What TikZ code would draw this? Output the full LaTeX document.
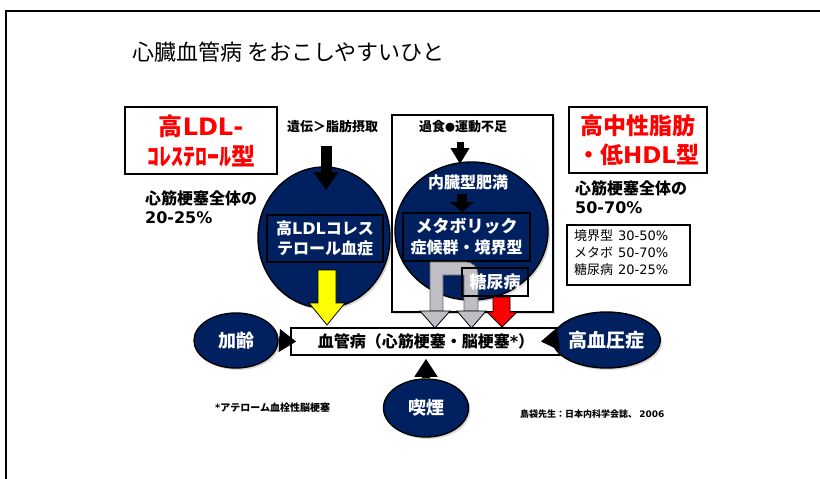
\documentclass[tikz,border=0pt]{standalone}
\usepackage{fontspec}
\setmainfont{Noto Sans CJK JP}
\newfontfamily\latfont{DejaVu Sans}
\newcommand\lat[1]{{\latfont #1}}
\usetikzlibrary{shapes.geometric,arrows.meta,shadows}
\definecolor{navy}{RGB}{0,32,96}
\definecolor{arrowgray}{RGB}{190,190,196}
\definecolor{pptred}{RGB}{255,0,0}
\definecolor{pptyellow}{RGB}{255,255,0}
\tikzset{
  redbox/.style={rectangle, draw=black, line width=1.5pt, fill=white, inner sep=0pt, text=pptred, align=center},
  navyell/.style={ellipse, fill=navy, draw=black, line width=1.4pt, inner sep=0pt, text=white,
    drop shadow={opacity=0.3, shadow xshift=2pt, shadow yshift=-2pt}},
  navybox/.style={rectangle, fill=navy, draw=black, line width=1.4pt, inner sep=0pt, text=white, align=center},
  lbl/.style={inner sep=0pt, anchor=west, align=left},
  blockarrow/.style={draw=black, line width=0.8pt},
  fat/.style={draw=black, line width=#1},
}
\begin{document}
\begin{tikzpicture}[x=1pt,y=-1pt]
\useasboundingbox (0,0) rectangle (820,479);
% frame
\draw[line width=1.5pt] (6,479) -- (6,11) -- (820,11);
% title
\node[lbl, font=\fontsize{22}{26}\selectfont] (title) at (132,52) {心臓血管病 をおこしやすいひと};

% left type box
\node[redbox, minimum width=152pt, minimum height=67pt, font=\fontsize{24}{30}\selectfont\bfseries] (ldltype) at (201,140.5) {高\lat{LDL-}\\ｺﾚｽﾃﾛｰﾙ型};
\node[lbl, font=\fontsize{16}{19}\selectfont\bfseries] (leftpct) at (145,207.5) {心筋梗塞全体の\\\lat{20-25\%}};

% big white box (metabolic)
\node[rectangle, draw=black, line width=1.5pt, fill=white, minimum width=161pt, minimum height=197pt,
  drop shadow={opacity=0.3, shadow xshift=2pt, shadow yshift=-2pt}] (metaframe) at (472.5,213.5) {};

% circle 1
\node[navyell, minimum width=132pt, minimum height=141pt] (c1) at (324,237.5) {};
\node[font=\fontsize{13}{15}\selectfont\bfseries, inner sep=0pt] (iden) at (332.5,127) {遺伝＞脂肪摂取};
\coordinate (a1s) at (326,146);
\coordinate (a1e) at (326,190);
\draw[fat=11pt, -{Triangle[width=24pt,length=18pt]}] (a1s) -- (a1e);
\node[navybox, minimum width=116pt, minimum height=47pt, font=\fontsize{16}{20}\selectfont\bfseries] (ldlbox) at (325,238.5) {高\lat{LDL}コレス\\テロール血症};
\draw[blockarrow, fill=pptyellow] (318,270) -- (336,270) -- (336,303) -- (345,303) -- (327,325) -- (309,303) -- (318,303) -- cycle;

% circle 2
\node[navyell, minimum width=153pt, minimum height=138pt] (c2) at (471.5,231) {};
\node[font=\fontsize{13}{15}\selectfont\bfseries, inner sep=0pt] (kashoku) at (463,127) {過食{\fontsize{10}{12}\selectfont ●}運動不足};
\coordinate (a2s) at (460,142);
\coordinate (a2e) at (460,164);
\draw[fat=7pt, -{Triangle[width=18pt,length=16pt]}] (a2s) -- (a2e);
\node[font=\fontsize{16}{19}\selectfont\bfseries, text=white, inner sep=0pt] (naizo) at (468,182) {内臓型肥満};
\coordinate (a3s) at (462,194);
\coordinate (a3e) at (462,212);
\draw[fat=10pt, -{Triangle[width=24pt,length=10pt]}] (a3s) -- (a3e);
\node[navybox, minimum width=127pt, minimum height=48pt, font=\fontsize{17}{21}\selectfont\bfseries] (metabox) at (466.5,237) {メタボリック\\{\fontsize{16}{20}\selectfont 症候群・境界型}};
% gray arrows
\draw[draw=black!60, line width=0.6pt, fill=arrowgray] (430,311) -- (430,262) -- (466,262) arc[start angle=-90, end angle=0, radius=12] -- (478,311) -- (464,311) -- (464,275) -- (443,275) -- (443,311) -- cycle;
\draw[blockarrow, fill=arrowgray] (420,311) -- (450,311) -- (435,328) -- cycle;
\draw[blockarrow, fill=arrowgray] (457,311) -- (486,311) -- (471.5,328) -- cycle;
\node[rectangle, draw=black, line width=1.4pt, minimum width=66pt, minimum height=28pt, inner sep=0pt, text=white, font=\fontsize{17}{20}\selectfont\bfseries] (dm) at (495,282) {糖尿病};
\draw[blockarrow, fill=pptred] (493,297) -- (510,297) -- (510,312) -- (517,312) -- (502,327) -- (487,312) -- (493,312) -- cycle;

% right type box
\node[redbox, minimum width=138pt, minimum height=66pt, font=\fontsize{23}{29}\selectfont\bfseries] (tgtype) at (638,140) {高中性脂肪\\・低\lat{HDL}型};
\node[lbl, font=\fontsize{16}{19}\selectfont\bfseries] (rightpct) at (575,197.5) {心筋梗塞全体の\\\lat{50-70\%}};
\node[rectangle, draw=black, line width=1.3pt, minimum width=123pt, minimum height=60pt, inner sep=0pt] (tbl) at (628.5,255) {};
\node[lbl, font=\fontsize{13}{17}\selectfont] (tbltxt) at (574,252.5) {境界型\hspace{5pt}\lat{30-50\%}\\メタボ\hspace{5pt}\lat{50-70\%}\\糖尿病\hspace{5pt}\lat{20-25\%}};

% main box and risk factors
\node[rectangle, draw=black, line width=1.5pt, fill=white, minimum width=270pt, minimum height=27pt, inner sep=0pt, font=\fontsize{16}{19}\selectfont\bfseries] (vbox) at (426,341.5) {血管病（心筋梗塞・脳梗塞\lat{*}）};
\node[navyell, minimum width=84pt, minimum height=55pt, font=\fontsize{18}{21}\selectfont\bfseries] (karei) at (236,340.5) {加齢};
\node[navyell, minimum width=87pt, minimum height=56pt, font=\fontsize{19}{22}\selectfont\bfseries] (ketsu) at (606.5,340) {高血圧症};
\node[navyell, minimum width=85pt, minimum height=58pt, font=\fontsize{18}{21}\selectfont\bfseries] (kitsuen) at (426,408) {喫煙};
\draw[fat=8pt, -{Triangle[width=22pt,length=17pt]}] (karei.east) -- ([xshift=6pt]vbox.west);
\draw[fat=8pt, -{Triangle[width=22pt,length=18pt]}] (ketsu.west) -- ([xshift=-21pt]vbox.east);
\draw[fat=8pt, -{Triangle[width=22pt,length=18pt]}] (kitsuen.north) -- ([yshift=-3pt]vbox.south);

% footnotes
\node[lbl, font=\fontsize{10}{12}\selectfont\bfseries] (foot) at (215,408) {\lat{*}アテローム血栓性脳梗塞};
\node[lbl, font=\fontsize{9}{11}\selectfont\bfseries] (cite) at (520,414) {島袋先生：日本内科学会誌、 \lat{2006}};
\end{tikzpicture}
\end{document}
